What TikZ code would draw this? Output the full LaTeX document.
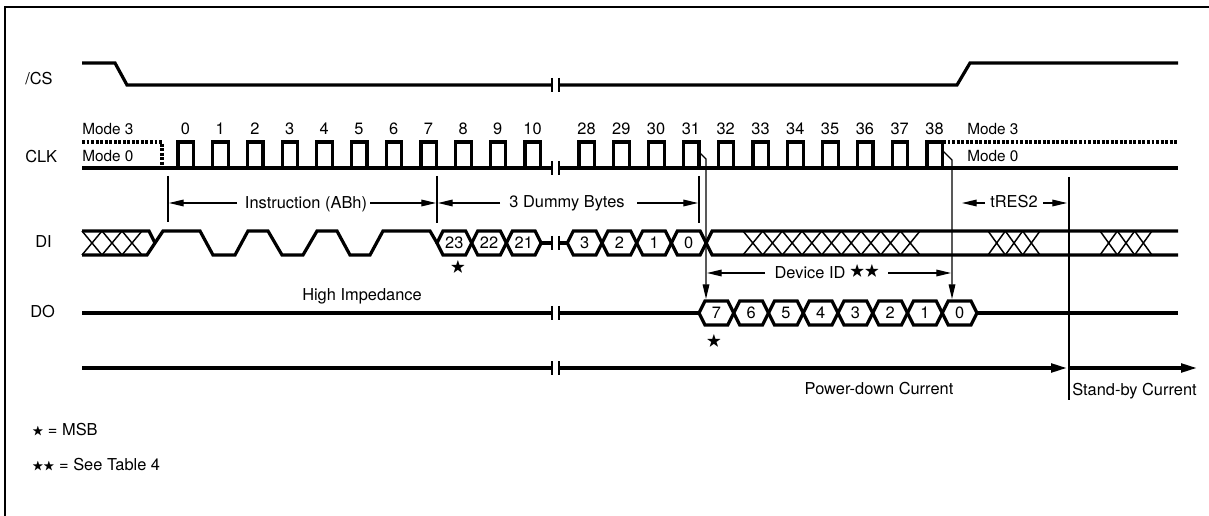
\documentclass[tikz,border=0pt]{standalone}
\usepackage{amssymb}
\usepackage{fontspec}
\setmainfont{TeX Gyre Heros}
\usetikzlibrary{arrows.meta}
\newcommand\bstar{\raisebox{0.2pt}{\scalebox{0.72}{$\bigstar$}}}
\newcommand\mstar{\scalebox{0.95}{$\bigstar$}}
\begin{document}
\begin{tikzpicture}[x=0.75pt,y=-0.75pt,
  sig/.style={line width=2.4pt, line join=miter},
  thinline/.style={line width=0.9pt},
  xs/.style={line width=1.1pt},
  brk/.style={line width=1.1pt},
  lbl/.style={font=\fontsize{12.3}{14}\selectfont, inner sep=0pt},
  mlbl/.style={font=\fontsize{11.5}{13}\selectfont, inner sep=0pt},
  dim/.style={thinline,-{Triangle[length=11pt,width=5pt]}},
  pwr/.style={sig,-{Triangle[length=12pt,width=6.5pt]}},
  dashsig/.style={sig,dash pattern=on 2.2pt off 1.2pt},
]
\useasboundingbox (0,0) rectangle (1209,516);
\draw[line width=1.5pt] (5,516) -- (5,7) -- (1209,7);

% signal names
\node[lbl,anchor=base west] (ncs) at (25,85) {/CS};
\node[lbl,anchor=base west] (nclk) at (25,163) {CLK};
\node[lbl,anchor=base west] (ndi) at (35,248) {DI};
\node[lbl,anchor=base west] (ndo) at (30,318) {DO};

% breaks
\foreach \y in {85,168,243,313,368}
  \draw[brk] (552,\y-7) -- (552,\y+7) (559,\y-7) -- (559,\y+7);

% /CS
\draw[sig] (82,63) -- (115,63) -- (127,85) -- (552,85);
\draw[sig] (559,85) -- (957,85) -- (970,63) -- (1178,63);

% CLK
\draw[sig] (82,168) -- (552,168);
\draw[sig] (559,168) -- (1178,168);
\draw[dashsig] (82,142) -- (162,142) -- (162,168);
\draw[dashsig] (943,142) -- (1178,142);
\foreach \k in {0,...,10} {
  \pgfmathsetmacro\r{178+34.7*\k}
  \draw[sig] (\r,168) -- (\r,142) -- (\r+15.5,142) -- (\r+15.5,168);
  \node[lbl,anchor=base] (c\k) at (\r+7.5,135) {\k};
}
\foreach \k in {28,...,38} {
  \pgfmathsetmacro\r{579+34.8*(\k-28)}
  \draw[sig] (\r,168) -- (\r,142) -- (\r+15.5,142) -- (\r+15.5,168);
  \node[lbl,anchor=base] (c\k) at (\r+7.5,135) {\k};
}
\node[mlbl,anchor=base west] (m3a) at (82,135) {Mode 3};
\node[mlbl,anchor=base west] (m0a) at (82,162) {Mode 0};
\node[mlbl,anchor=base west] (m3b) at (967,135) {Mode 3};
\node[mlbl,anchor=base west] (m0b) at (967,162) {Mode 0};

% CLK -> DO arrows
\draw[dim] (698,151) -- (706,159) -- (706,299);
\draw[dim] (943,151) -- (952,160) -- (952,299);

% dimension ticks
\draw[thinline] (168,176) -- (168,222);
\draw[thinline] (437,176) -- (437,223);
\draw[thinline] (699,176) -- (699,223);
\draw[thinline] (1069,177) -- (1069,400);

\node[lbl,anchor=base] (instr) at (306,209) {Instruction (ABh)};
\draw[dim] (237,203) -- (169,203);
\draw[dim] (370,203) -- (436,203);
\node[lbl,anchor=base] (dummy) at (567,208) {3 Dummy Bytes};
\draw[dim] (500,203) -- (438,203);
\draw[dim] (637,203) -- (698,203);
\node[lbl,anchor=base] (devid) at (827,279) {Device ID \raisebox{2.5pt}{\mstar\mstar}};
\draw[dim] (765,273) -- (707,273);
\draw[dim] (888,273) -- (951,273);
\node[lbl,anchor=base] (tres) at (1014,208) {tRES2};
\draw[dim] (985,203) -- (962,203);
\draw[dim] (1043,203) -- (1067,203);

% DI
\draw[sig] (82,231) -- (149,231) -- (155,243);
\draw[sig] (82,255) -- (147,255) -- (163,231) -- (200,231) -- (213,255) -- (235,255)
  -- (248,231) -- (268,231) -- (282,255) -- (303,255) -- (317,231) -- (337,231)
  -- (350,255) -- (370,255) -- (383,231) -- (430,231) -- (437,243);
\foreach \a in {82,102,122}
  \draw[xs] (\a,231) -- (\a+20,255) (\a,255) -- (\a+20,231);
\foreach \i/\t in {0/23,1/22,2/21} {
  \pgfmathsetmacro\a{437+34.7*\i}
  \pgfmathsetmacro\b{\a+34.7}
  \draw[sig] (\a,243) -- (\a+6,231) -- (\b-6,231) -- (\b,243) -- (\b-6,255) -- (\a+6,255) -- cycle;
  \node[lbl] (di\t) at ({(\a+\b)/2},243) {\t};
}
\draw[sig] (541.1,243) -- (552,243);
\draw[sig] (559,243) -- (567.3,243);
\foreach \i/\t in {0/3,1/2,2/1,3/0} {
  \pgfmathsetmacro\a{567.3+34.7*\i}
  \pgfmathsetmacro\b{\a+34.7}
  \draw[sig] (\a,243) -- (\a+6,231) -- (\b-6,231) -- (\b,243) -- (\b-6,255) -- (\a+6,255) -- cycle;
  \node[lbl] (dib\t) at ({(\a+\b)/2},243) {\t};
}
\draw[sig] (706.1,243) -- (712.1,231) -- (1178,231);
\draw[sig] (706.1,243) -- (712.1,255) -- (1178,255);
\foreach \i in {0,...,8} {
  \pgfmathsetmacro\a{743+19.67*\i}
  \draw[xs] (\a,231) -- (\a+19.67,255) (\a,255) -- (\a+19.67,231);
}
\foreach \i in {0,1,2} {
  \pgfmathsetmacro\a{988+17.33*\i}
  \draw[xs] (\a,231) -- (\a+17.33,255) (\a,255) -- (\a+17.33,231);
  \pgfmathsetmacro\c{1100+17.33*\i}
  \draw[xs] (\c,231) -- (\c+17.33,255) (\c,255) -- (\c+17.33,231);
}
\node[lbl] (msb1) at (458,268) {\mstar};

% DO
\draw[sig] (82,313) -- (552,313);
\draw[sig] (559,313) -- (699,313);
\foreach \i/\t in {0/7,1/6,2/5,3/4,4/3,5/2,6/1,7/0} {
  \pgfmathsetmacro\a{699+34.75*\i}
  \pgfmathsetmacro\b{\a+34.75}
  \draw[sig] (\a,313) -- (\a+6,301) -- (\b-6,301) -- (\b,313) -- (\b-6,325) -- (\a+6,325) -- cycle;
  \node[lbl] (do\t) at ({(\a+\b)/2},313) {\t};
}
\draw[sig] (977,313) -- (1178,313);
\node[lbl] (msb2) at (714,342) {\mstar};
\node[lbl,anchor=base] (hiz) at (362,301) {High Impedance};

% current line
\draw[sig] (82,368) -- (552,368);
\draw[pwr] (559,368) -- (1067,368);
\draw[pwr] (1069,368) -- (1197,368);
\node[lbl,anchor=base] (pd) at (879,394) {Power-down Current};
\node[lbl,anchor=base west] (sb) at (1072,395) {Stand-by Current};

% legend
\node[lbl,anchor=base west] (leg1) at (32,435) {\bstar\ = MSB};
\node[lbl,anchor=base west] (leg2) at (32,470) {\bstar\bstar\ = See Table 4};
\end{tikzpicture}
\end{document}
